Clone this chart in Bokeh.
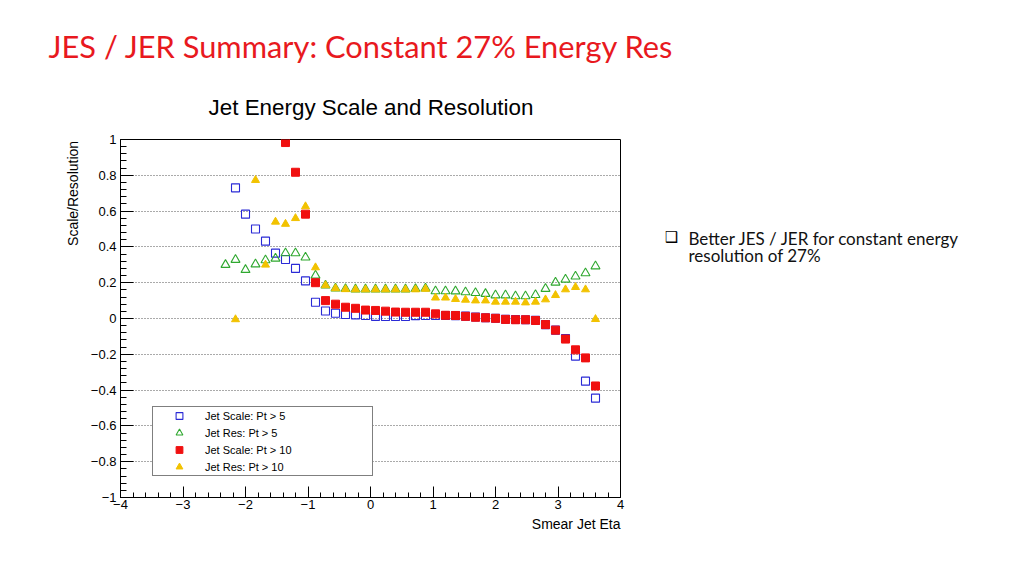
import math
from bokeh.plotting import figure
from bokeh.layouts import column, row
from bokeh.models import FixedTicker, Label, Legend, LegendItem
from bokeh.embed import file_html
from bokeh.resources import INLINE

# ---------------- data ----------------
eta_scale5 = [-2.16, -2.00, -1.84, -1.68, -1.52, -1.36, -1.20, -1.04, -0.88, -0.72,
              -0.56, -0.40, -0.24, -0.08, 0.08, 0.24, 0.40, 0.56, 0.72, 0.88,
              1.04, 1.20, 1.36, 1.52, 1.68, 1.84, 2.00, 2.16, 2.32, 2.48,
              2.64, 2.80, 2.96, 3.12, 3.28, 3.44, 3.60]
scale5 = [0.73, 0.583, 0.50, 0.432, 0.365, 0.33, 0.28, 0.21, 0.091, 0.042,
          0.029, 0.022, 0.020, 0.017, 0.012, 0.011, 0.011, 0.011, 0.016, 0.017,
          0.017, 0.017, 0.016, 0.013, 0.008, 0.004, 0.001, -0.004, -0.006, -0.007,
          -0.010, -0.034, -0.065, -0.112, -0.21, -0.35, -0.445]

eta_res5 = [-2.32, -2.16, -2.00, -1.84, -1.68, -1.52, -1.36, -1.20, -1.04, -0.88,
            -0.72, -0.56, -0.40, -0.24, -0.08, 0.08, 0.24, 0.40, 0.56, 0.72,
            0.88, 1.04, 1.20, 1.36, 1.52, 1.68, 1.84, 2.00, 2.16, 2.32,
            2.48, 2.64, 2.80, 2.96, 3.12, 3.28, 3.44, 3.60]
res5 = [0.30, 0.328, 0.272, 0.303, 0.326, 0.335, 0.365, 0.365, 0.341, 0.24,
        0.185, 0.168, 0.165, 0.163, 0.163, 0.163, 0.163, 0.163, 0.163, 0.165,
        0.168, 0.153, 0.153, 0.152, 0.147, 0.143, 0.138, 0.130, 0.130, 0.125,
        0.125, 0.132, 0.166, 0.201, 0.218, 0.235, 0.253, 0.292]

eta_scale10 = [-1.36, -1.20, -1.04, -0.88, -0.72, -0.56, -0.40, -0.24, -0.08, 0.08,
               0.24, 0.40, 0.56, 0.72, 0.88, 1.04, 1.20, 1.36, 1.52, 1.68,
               1.84, 2.00, 2.16, 2.32, 2.48, 2.64, 2.80, 2.96, 3.12, 3.28,
               3.44, 3.60]
scale10 = [0.983, 0.817, 0.583, 0.20, 0.10, 0.08, 0.063, 0.057, 0.047, 0.045,
           0.041, 0.036, 0.035, 0.035, 0.035, 0.026, 0.018, 0.017, 0.012, 0.007,
           0.004, 0.001, -0.005, -0.007, -0.007, -0.011, -0.034, -0.065, -0.115, -0.175,
           -0.22, -0.377]

eta_res10 = [-2.16, -1.84, -1.68, -1.52, -1.36, -1.20, -1.04, -0.88, -0.72, -0.56,
             -0.40, -0.24, -0.08, 0.08, 0.24, 0.40, 0.56, 0.72, 0.88, 1.04,
             1.20, 1.36, 1.52, 1.68, 1.84, 2.00, 2.16, 2.32, 2.48, 2.64,
             2.80, 2.96, 3.12, 3.28, 3.44, 3.60]
res10 = [-0.005, 0.773, 0.30, 0.54, 0.528, 0.56, 0.626, 0.285, 0.185, 0.168,
         0.163, 0.162, 0.162, 0.162, 0.162, 0.162, 0.162, 0.162, 0.165, 0.116,
         0.116, 0.108, 0.104, 0.100, 0.100, 0.093, 0.093, 0.093, 0.089, 0.093,
         0.106, 0.130, 0.162, 0.175, 0.162, -0.004]

series_labels = ["Jet Scale: Pt > 5", "Jet Res: Pt > 5", "Jet Scale: Pt > 10", "Jet Res: Pt > 10"]

x_ticks = [-4, -3, -2, -1, 0, 1, 2, 3, 4]
x_tick_labels = ["\u22124", "\u22123", "\u22122", "\u22121", "0", "1", "2", "3", "4"]
y_ticks = [-1, -0.8, -0.6, -0.4, -0.2, 0, 0.2, 0.4, 0.6, 0.8, 1]
y_tick_labels = ["\u22121", "\u22120.8", "\u22120.6", "\u22120.4", "\u22120.2", "0",
                 "0.2", "0.4", "0.6", "0.8", "1"]
x_minor = [round(-4 + 0.2 * i, 2) for i in range(41)]
y_minor = [round(-1 + 0.04 * i, 2) for i in range(51)]

page_title = "JES / JER Summary: Constant 27% Energy Res"
plot_title = "Jet Energy Scale and Resolution"
x_title = "Smear Jet Eta"
y_title = "Scale/Resolution"
note_lines = ["Better JES / JER for constant energy", "resolution of 27%"]


def text_panel(w, h):
    """A blank figure whose frame is the whole canvas (1 data unit = 1 px)."""
    f = figure(width=w, height=h, x_range=(0, w), y_range=(0, h),
               output_backend="svg", toolbar_location=None,
               x_axis_location=None, y_axis_location=None,
               min_border=0, min_border_left=0, min_border_right=0,
               min_border_top=0, min_border_bottom=0)
    f.outline_line_color = None
    f.xgrid.visible = False
    f.ygrid.visible = False
    f.background_fill_color = "white"
    f.border_fill_color = "white"
    return f


TOP_H = 129       # title strip
MID_H = 386       # plot row
BOT_H = 576 - TOP_H - MID_H

# ---------------- top strip: titles ----------------
top = text_panel(1024, TOP_H)
top.add_layout(Label(x=48, y=TOP_H - 45.7, text=page_title, text_font="Lato",
                     text_font_size="30.8px", text_color="#e8191e",
                     text_baseline="alphabetic", text_align="left"))
top.add_layout(Label(x=370.5, y=TOP_H - 107, text=plot_title, text_font="Liberation Sans",
                     text_font_size="22.4px", text_color="black",
                     text_baseline="alphabetic", text_align="center"))

# ---------------- left strip: y title ----------------
left = text_panel(85, MID_H)
left.add_layout(Label(x=72, y=MID_H - 1.5, text=y_title, text_font="Liberation Sans",
                      text_font_size="14px", text_color="black", angle=math.pi / 2,
                      text_baseline="middle", text_align="right"))

# ---------------- main plot ----------------
p = figure(width=555, height=MID_H, x_range=(-4, 4), y_range=(-1, 1),
           output_backend="svg", toolbar_location=None,
           min_border_left=35, min_border_right=20,
           min_border_top=10, min_border_bottom=18)
p.outline_line_color = "black"
p.outline_line_width = 1
p.background_fill_color = "white"
p.border_fill_color = "white"

p.xgrid.visible = False
p.ygrid.grid_line_color = "#555555"
p.ygrid.grid_line_dash = "1 2"
p.ygrid.grid_line_width = 1

p.xaxis.ticker = FixedTicker(ticks=x_ticks, minor_ticks=x_minor)
p.yaxis.ticker = FixedTicker(ticks=y_ticks, minor_ticks=y_minor)
p.xaxis.major_label_overrides = {t: s for t, s in zip(x_ticks, x_tick_labels)}
p.yaxis.major_label_overrides = {t: s for t, s in zip(y_ticks, y_tick_labels)}

for ax in (p.xaxis[0], p.yaxis[0]):
    ax.axis_line_color = "black"
    ax.major_tick_line_color = "black"
    ax.minor_tick_line_color = "black"
    ax.major_tick_out = 0
    ax.minor_tick_out = 0
    ax.major_label_text_font = "Liberation Sans"
    ax.major_label_text_font_size = "13px"
    ax.major_label_text_color = "black"
p.xaxis.major_tick_in = 11
p.xaxis.minor_tick_in = 5
p.yaxis.major_tick_in = 13
p.yaxis.minor_tick_in = 6
p.xaxis.major_label_standoff = 2
p.yaxis.major_label_standoff = 4

r1 = p.scatter(eta_scale5, scale5, marker="square", size=8, fill_color=None,
               line_color="#2a2ad6", line_width=1.1)
r2 = p.scatter(eta_res5, res5, marker="triangle", size=9, fill_color=None,
               line_color="#2fa82f", line_width=1.1)
r3 = p.scatter(eta_scale10, scale10, marker="square", size=8, fill_color="#f01010",
               line_color="#f01010")
r4 = p.scatter(eta_res10, res10, marker="triangle", size=8, fill_color="#f2c200",
               line_color="#f2c200")

legend = Legend(items=[LegendItem(label=lab, renderers=[r]) for lab, r in
                       zip(series_labels, [r1, r2, r3, r4])],
                location=(32, 21), orientation="vertical",
                padding=0, margin=0, spacing=0,
                glyph_width=52, glyph_height=17, label_standoff=0,
                label_width=167, label_height=17,
                label_text_font="Liberation Sans", label_text_font_size="11px",
                label_text_color="black",
                border_line_color="black", border_line_width=1,
                background_fill_color="white", background_fill_alpha=1.0)
p.add_layout(legend)

# ---------------- right strip: note ----------------
right = text_panel(384, MID_H)
right.add_layout(Label(x=31, y=MID_H - (234 - TOP_H), text="\u2751", text_font="DejaVu Sans",
                       text_font_size="15px", text_color="black",
                       text_baseline="middle", text_align="center"))
right.add_layout(Label(x=48, y=MID_H - (235.5 - TOP_H), text=note_lines[0], text_font="Lato",
                       text_font_size="17px", text_color="#111111",
                       text_baseline="alphabetic", text_align="left"))
right.add_layout(Label(x=48, y=MID_H - (254 - TOP_H), text=note_lines[1], text_font="Lato",
                       text_font_size="17px", text_color="#111111",
                       text_baseline="alphabetic", text_align="left"))

# ---------------- bottom strip: x title ----------------
bottom = text_panel(1024, BOT_H)
bottom.add_layout(Label(x=620, y=576 - 523, text=x_title, text_font="Liberation Sans",
                        text_font_size="14px", text_color="black",
                        text_baseline="alphabetic", text_align="right"))

layout = column(top, row(left, p, right), bottom)
open("out.html", "w").write(file_html(layout, INLINE))
